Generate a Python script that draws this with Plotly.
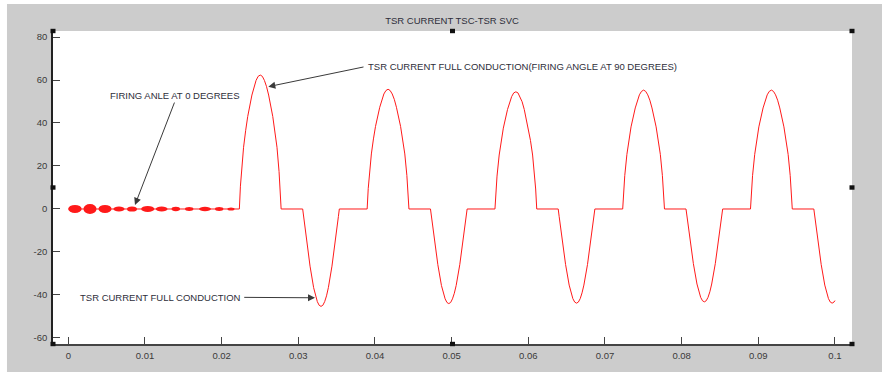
import plotly.graph_objects as go

# ---------------- data ----------------
title_text = "TSR CURRENT TSC-TSR SVC"

x_tickvals = [0, 0.01, 0.02, 0.03, 0.04, 0.05, 0.06, 0.07, 0.08, 0.09, 0.1]
x_ticktext = ["0", "0.01", "0.02", "0.03", "0.04", "0.05", "0.06", "0.07", "0.08", "0.09", "0.1"]
y_tickvals = [-60, -40, -20, 0, 20, 40, 60, 80]
y_ticktext = ["-60", "-40", "-20", "0", "20", "40", "60", "80"]

# initial (firing angle 0) ripple bursts: centre time, half duration, amplitude
burst_t = [0.00087, 0.00283, 0.00479, 0.00661, 0.00831, 0.01036, 0.01218, 0.01402, 0.01577, 0.01783, 0.01968, 0.02122]
burst_hw = [0.00087, 0.00085, 0.00085, 0.00072, 0.00065, 0.00085, 0.00076, 0.00055, 0.00055, 0.00078, 0.00055, 0.00046]
burst_amp = [1.9, 2.3, 1.9, 1.2, 1.2, 1.4, 1.2, 1.0, 0.9, 1.0, 0.9, 0.7]

# full-conduction current lobes (time s, current A)
p1_t = [0.02231, 0.02245, 0.02258, 0.02286, 0.02313, 0.02340, 0.02395, 0.02422, 0.02449, 0.02476, 0.02504, 0.02531, 0.02558, 0.02585, 0.02613, 0.02667, 0.02694, 0.02722, 0.02749, 0.02762, 0.02776]
p1_i = [0, 10.6, 17.4, 28.7, 36.4, 43.0, 53.0, 57.0, 59.8, 61.7, 62.3, 61.7, 59.8, 57.0, 53.0, 43.0, 36.4, 28.7, 17.4, 10.6, 0]
n1_t = [0.03057, 0.03069, 0.03081, 0.03105, 0.03129, 0.03153, 0.03200, 0.03224, 0.03248, 0.03272, 0.03296, 0.03320, 0.03344, 0.03368, 0.03392, 0.03439, 0.03463, 0.03487, 0.03511, 0.03523, 0.03535]
n1_i = [0, -3.5, -7.1, -14.0, -20.6, -26.6, -36.6, -40.4, -43.1, -44.8, -45.3, -44.8, -43.1, -40.4, -36.6, -26.6, -20.6, -14.0, -7.1, -3.5, 0]
p2_t = [0.03898, 0.03912, 0.03925, 0.03953, 0.03980, 0.04007, 0.04062, 0.04089, 0.04116, 0.04143, 0.04171, 0.04198, 0.04225, 0.04252, 0.04280, 0.04334, 0.04361, 0.04389, 0.04416, 0.04429, 0.04443]
p2_i = [0, 9.5, 15.6, 25.6, 32.6, 38.4, 47.3, 51.0, 53.5, 55.1, 55.7, 55.1, 53.5, 51.0, 47.3, 38.4, 32.6, 25.6, 15.6, 9.5, 0]
n2_t = [0.04724, 0.04736, 0.04748, 0.04772, 0.04796, 0.04820, 0.04867, 0.04891, 0.04915, 0.04939, 0.04963, 0.04987, 0.05011, 0.05035, 0.05059, 0.05106, 0.05130, 0.05154, 0.05178, 0.05190, 0.05202]
n2_i = [0, -3.4, -6.9, -13.6, -20.0, -25.9, -35.6, -39.2, -41.8, -43.5, -44.0, -43.5, -41.8, -39.2, -35.6, -25.9, -20.0, -13.6, -6.9, -3.4, 0]
p3_t = [0.05565, 0.05579, 0.05592, 0.05620, 0.05647, 0.05674, 0.05729, 0.05756, 0.05783, 0.05810, 0.05838, 0.05865, 0.05892, 0.05919, 0.05947, 0.06001, 0.06028, 0.06056, 0.06083, 0.06096, 0.06110]
p3_i = [0, 9.3, 15.3, 25.1, 31.9, 37.6, 46.3, 49.9, 52.3, 54.0, 54.5, 54.0, 52.3, 49.9, 46.3, 37.6, 31.9, 25.1, 15.3, 9.3, 0]
n3_t = [0.06390, 0.06402, 0.06414, 0.06438, 0.06462, 0.06486, 0.06533, 0.06557, 0.06581, 0.06605, 0.06629, 0.06653, 0.06677, 0.06701, 0.06725, 0.06772, 0.06796, 0.06820, 0.06844, 0.06856, 0.06868]
n3_i = [0, -3.4, -6.8, -13.5, -19.9, -25.8, -35.4, -39.0, -41.7, -43.3, -43.8, -43.3, -41.7, -39.0, -35.4, -25.8, -19.9, -13.5, -6.8, -3.4, 0]
p4_t = [0.07231, 0.07245, 0.07258, 0.07286, 0.07313, 0.07340, 0.07395, 0.07422, 0.07449, 0.07476, 0.07504, 0.07531, 0.07558, 0.07585, 0.07613, 0.07667, 0.07694, 0.07722, 0.07749, 0.07762, 0.07776]
p4_i = [0, 9.4, 15.5, 25.4, 32.4, 38.2, 47.0, 50.6, 53.1, 54.7, 55.3, 54.7, 53.1, 50.6, 47.0, 38.2, 32.4, 25.4, 15.5, 9.4, 0]
n4_t = [0.08057, 0.08069, 0.08081, 0.08105, 0.08129, 0.08153, 0.08200, 0.08224, 0.08248, 0.08272, 0.08296, 0.08320, 0.08344, 0.08368, 0.08392, 0.08439, 0.08463, 0.08487, 0.08511, 0.08523, 0.08535]
n4_i = [0, -3.4, -6.7, -13.3, -19.6, -25.4, -34.9, -38.5, -41.1, -42.7, -43.2, -42.7, -41.1, -38.5, -34.9, -25.4, -19.6, -13.3, -6.7, -3.4, 0]
p5_t = [0.08898, 0.08912, 0.08925, 0.08953, 0.08980, 0.09007, 0.09062, 0.09089, 0.09116, 0.09143, 0.09171, 0.09198, 0.09225, 0.09252, 0.09280, 0.09334, 0.09361, 0.09389, 0.09416, 0.09429, 0.09443]
p5_i = [0, 9.4, 15.5, 25.4, 32.4, 38.2, 47.0, 50.6, 53.1, 54.7, 55.3, 54.7, 53.1, 50.6, 47.0, 38.2, 32.4, 25.4, 15.5, 9.4, 0]
n5_t = [0.09724, 0.09736, 0.09748, 0.09772, 0.09796, 0.09820, 0.09867, 0.09891, 0.09915, 0.09939, 0.09963, 0.09987, 0.1000]
n5_i = [0, -3.4, -6.8, -13.5, -19.9, -25.8, -35.4, -39.0, -41.7, -43.3, -43.8, -43.3, -42.6]

# annotations: text, and arrows (tail -> head) in data units
ann1_text = "FIRING ANLE AT 0 DEGREES"
ann1_pos = (0.01396, 53.0)
arr1_tail = (0.01392, 50.2)
arr1_head = (0.0087, 1.9)

ann2_text = "TSR CURRENT FULL CONDUCTION(FIRING ANGLE AT 90 DEGREES)"
ann2_pos = (0.0388, 66.2)
arr2_tail = (0.0387, 66.2)
arr2_head = (0.02609, 56.9)

ann3_text = "TSR CURRENT FULL CONDUCTION"
ann3_pos = (0.02275, -41.1)
arr3_tail = (0.02275, -41.1)
arr3_head = (0.03218, -41.3)

# ---------------- figure ----------------
t_main = [0.0] + p1_t + n1_t + p2_t + n2_t + p3_t + n3_t + p4_t + n4_t + p5_t + n5_t
i_main = [0.0] + p1_i + n1_i + p2_i + n2_i + p3_i + n3_i + p4_i + n4_i + p5_i + n5_i

RED = "#ff1a1a"
TXT = "#2e2e3a"
FONT = "Liberation Sans, Arial, sans-serif"

fig = go.Figure()
fig.add_trace(go.Scatter(x=t_main, y=i_main, mode="lines",
                         line=dict(color=RED, width=1), hoverinfo="skip"))

shapes = []
for c, hw, a in zip(burst_t, burst_hw, burst_amp):
    shapes.append(dict(type="circle", xref="x", yref="y", x0=c - hw, x1=c + hw,
                       y0=-a, y1=a, fillcolor=RED, line=dict(width=0), layer="above"))

# white strips of the screenshot (top and left edges)
shapes.append(dict(type="rect", xref="paper", yref="paper", x0=-0.2, x1=1.2,
                   y0=1.086, y1=1.2, fillcolor="white", line=dict(width=0), layer="below"))
shapes.append(dict(type="rect", xref="paper", yref="paper", x0=-0.2, x1=-0.0576,
                   y0=-0.2, y1=1.2, fillcolor="white", line=dict(width=0), layer="below"))

# MATLAB selection handles
for hx in (0, 0.5, 1):
    for hy in (0, 0.5, 1):
        if hx == 0.5 and hy == 0.5:
            continue
        shapes.append(dict(type="rect", xref="paper", yref="paper",
                           xsizemode="pixel", ysizemode="pixel",
                           xanchor=hx, yanchor=hy, x0=-2.5, x1=2.5, y0=-2.2, y1=2.2,
                           fillcolor="#111111", line=dict(width=0), layer="above"))

annotations = [
    dict(x=ann1_pos[0], y=ann1_pos[1], xref="x", yref="y", text=ann1_text,
         showarrow=False, xanchor="center", yanchor="middle",
         font=dict(family=FONT, size=9.5, color=TXT)),
    dict(x=ann2_pos[0], y=ann2_pos[1], xref="x", yref="y", text=ann2_text,
         showarrow=False, xanchor="left", yanchor="middle",
         font=dict(family=FONT, size=9.5, color=TXT)),
    dict(x=ann3_pos[0], y=ann3_pos[1], xref="x", yref="y", text=ann3_text,
         showarrow=False, xanchor="right", yanchor="middle",
         font=dict(family=FONT, size=9.5, color=TXT)),
]
for tail, head in ((arr1_tail, arr1_head), (arr2_tail, arr2_head), (arr3_tail, arr3_head)):
    annotations.append(dict(x=head[0], y=head[1], ax=tail[0], ay=tail[1],
                            xref="x", yref="y", axref="x", ayref="y", text="",
                            showarrow=True, arrowhead=2, arrowsize=1.4, arrowwidth=1,
                            arrowcolor="#3a3a3a", standoff=0, startstandoff=0))

fig.update_layout(
    width=882, height=372,
    margin=dict(l=53, r=30, t=31, b=28),
    paper_bgcolor="#cccccc", plot_bgcolor="white",
    showlegend=False,
    title=dict(text=title_text, x=0.5125, xanchor="center", y=1 - 21 / 372, yanchor="middle",
               font=dict(family=FONT, size=9.5, color=TXT)),
    font=dict(family=FONT, size=9.5, color="#3a3a3a"),
    shapes=shapes, annotations=annotations,
)
fig.update_xaxes(range=[-0.001996, 0.10222], tickvals=x_tickvals, ticktext=x_ticktext,
                 ticks="inside", ticklen=7, tickwidth=1, tickcolor="#444444",
                 showline=True, linecolor="#444444", linewidth=1.5, showgrid=False,
                 zeroline=False, tickfont=dict(family=FONT, size=9.5, color="#3a3a3a"),
                 ticklabelstandoff=2)
fig.update_yaxes(range=[-62.8, 82.79], tickvals=y_tickvals, ticktext=y_ticktext,
                 ticks="inside", ticklen=7, tickwidth=1, tickcolor="#444444",
                 showline=True, linecolor="#222222", linewidth=1.5, showgrid=False,
                 zeroline=False, tickfont=dict(family=FONT, size=9.5, color="#3a3a3a"),
                 ticklabelstandoff=2)

fig.write_html("out.html", config={"displayModeBar": False})
